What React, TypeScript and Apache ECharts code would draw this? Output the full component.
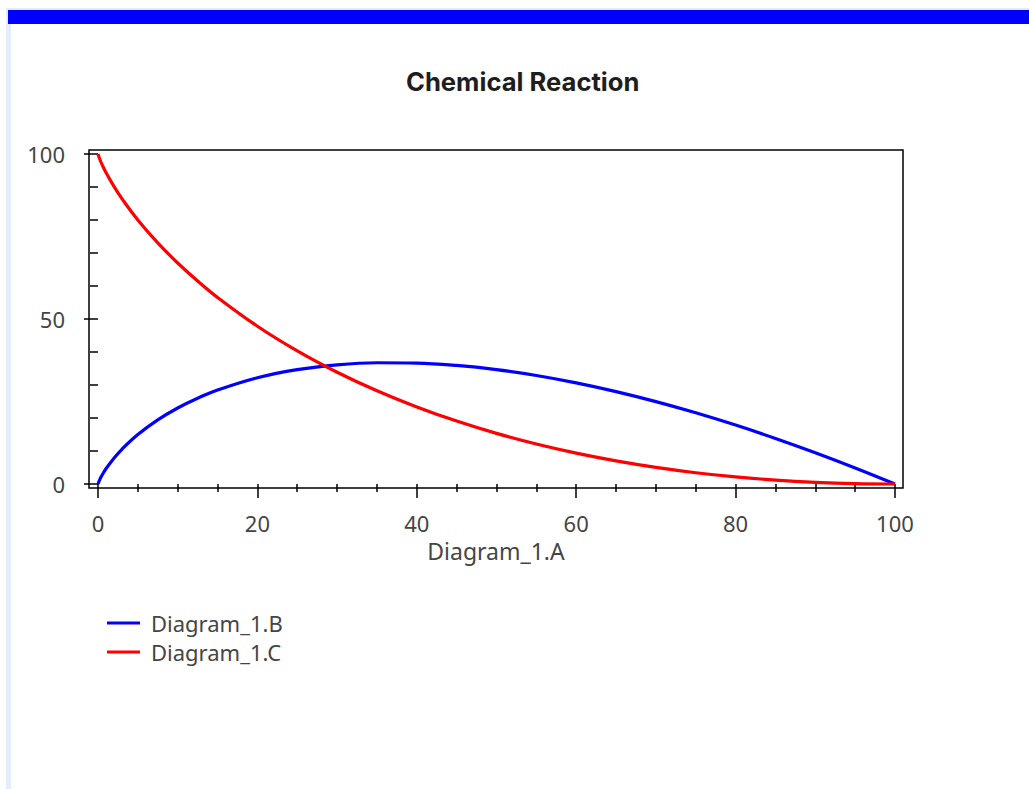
import React, { useEffect, useRef } from "react";
import * as echarts from "echarts";

// Diagram_1.A (x values)
const aValues = [0, 0.25, 0.5, 1, 2, 3, 5, 7.5, 10, 12.5, 15, 20, 25, 30, 35, 40, 45, 50, 55, 60, 65, 70, 75, 80, 85, 90, 95, 100];
// Diagram_1.B
const bValues = [0, 1.5, 2.65, 4.61, 7.82, 10.52, 14.98, 19.43, 23.03, 25.99, 28.46, 32.19, 34.66, 36.12, 36.74, 36.65, 35.93, 34.66, 32.88, 30.65, 28.0, 24.97, 21.58, 17.85, 13.81, 9.48, 4.87, 0];
// Diagram_1.C
const cValues = [100, 98.25, 96.85, 94.39, 90.18, 86.48, 80.02, 73.07, 66.97, 61.51, 56.54, 47.81, 40.34, 33.88, 28.26, 23.35, 19.07, 15.34, 12.12, 9.35, 7.0, 5.03, 3.42, 2.15, 1.19, 0.52, 0.13, 0];

const xMajorTicks = [0, 20, 40, 60, 80, 100];
const xMinorTicks = [5, 10, 15, 25, 30, 35, 45, 50, 55, 65, 70, 75, 85, 90, 95];
const yMajorTicks = [0, 50, 100];
const yMinorTicks = [10, 20, 30, 40, 60, 70, 80, 90];

const seriesNames = ["Diagram_1.B", "Diagram_1.C"];
const seriesColors = ["#0000ff", "#ff0000"];
const titleText = "Chemical Reaction";
const xName = "Diagram_1.A";

const FONT = "'Noto Sans', sans-serif";
const LABEL_COLOR = "#454545";

export default function App() {
  const ref = useRef<HTMLDivElement>(null);
  useEffect(() => {
    if (!ref.current) return;
    const chart = echarts.init(ref.current, undefined, { renderer: "svg" });
    const xMin = -1.129;
    const xMax = 101.004;
    const yMin = -1.212;
    const yMax = 101.212;
    const tickLine = { color: "#000", width: 1.5 };
    const xBase = {
      type: "value",
      min: xMin,
      max: xMax,
      position: "bottom",
      axisLine: { show: false },
      splitLine: { show: false },
    };
    const yBase = {
      type: "value",
      min: yMin,
      max: yMax,
      position: "left",
      axisLine: { show: false },
      splitLine: { show: false },
    };
    const series = [bValues, cValues].map((vals, i) => ({
      name: seriesNames[i],
      type: "line",
      xAxisIndex: 0,
      yAxisIndex: 0,
      data: aValues.map((a, j) => [a, vals[j]]),
      showSymbol: false,
      smooth: 0.4,
      color: seriesColors[i],
      lineStyle: { width: 3.2, color: seriesColors[i] },
    }));
    chart.setOption({
      animation: false,
      backgroundColor: "#fff",
      title: {
        text: titleText,
        left: 401,
        top: 63,
        textStyle: { fontFamily: "Inter, sans-serif", fontWeight: "bold", fontSize: 25.6, color: "#1e1e1e" },
      },
      legend: {
        orient: "vertical",
        left: 102,
        top: 606,
        icon: "rect",
        itemWidth: 33,
        itemHeight: 3,
        itemGap: 5,
        data: seriesNames,
        textStyle: { fontFamily: FONT, fontSize: 22, color: LABEL_COLOR, lineHeight: 24, padding: [0, 0, 0, 6] },
      },
      graphic: [
        { type: "rect", left: 6, top: 8, shape: { width: 5, height: 781 }, style: { fill: "#e3eefa" }, silent: true },
        { type: "rect", left: 6, top: 8, shape: { width: 1023, height: 2 }, style: { fill: "#e3eefa" }, silent: true },
        { type: "rect", left: 8, top: 10, shape: { width: 1021, height: 14 }, style: { fill: "#0000ff" }, silent: true },
      ],
      grid: {
        left: 89,
        top: 150,
        width: 814,
        height: 338,
        show: true,
        borderColor: "#000",
        borderWidth: 1.5,
        backgroundColor: "transparent",
        containLabel: false,
        outerBoundsMode: "none",
      },
      xAxis: [
        {
          ...xBase,
          name: xName,
          nameLocation: "middle",
          nameGap: 51,
          nameTextStyle: { fontFamily: FONT, fontSize: 23, color: LABEL_COLOR },
          axisTick: { show: true, length: 14, lineStyle: tickLine, customValues: xMajorTicks },
          axisLabel: { show: true, margin: 24, fontFamily: FONT, fontSize: 22, color: LABEL_COLOR, customValues: xMajorTicks },
        },
        {
          ...xBase,
          axisTick: { show: true, length: 8, lineStyle: tickLine, customValues: xMinorTicks },
          axisLabel: { show: false },
        },
      ],
      yAxis: [
        {
          ...yBase,
          axisTick: { show: true, length: 14, lineStyle: tickLine, customValues: yMajorTicks },
          axisLabel: { show: true, margin: 24, fontFamily: FONT, fontSize: 22, color: LABEL_COLOR, customValues: yMajorTicks },
        },
        {
          ...yBase,
          axisTick: { show: true, length: 8, lineStyle: tickLine, customValues: yMinorTicks },
          axisLabel: { show: false },
        },
      ],
      series,
    });
    return () => chart.dispose();
  }, []);
  return (
    <div
      ref={ref}
      style={{ position: "absolute", left: 0, top: 0, width: 1029, height: 789 }}
    />
  );
}
